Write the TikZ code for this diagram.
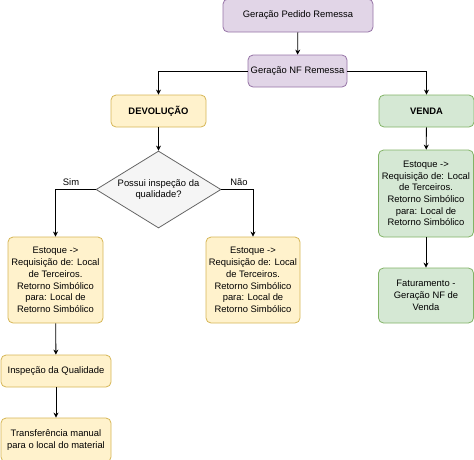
\documentclass[tikz,border=0pt]{standalone}
\usepackage{fontspec}
\setmainfont{Liberation Sans}
\usetikzlibrary{shapes.geometric,arrows.meta}
\definecolor{purfill}{HTML}{E1D5E7}\definecolor{purline}{HTML}{9673A6}
\definecolor{yelfill}{HTML}{FFF2CC}\definecolor{yelline}{HTML}{D6B656}
\definecolor{grnfill}{HTML}{D5E8D4}\definecolor{grnline}{HTML}{82B366}
\definecolor{gryfill}{HTML}{F5F5F5}\definecolor{gryline}{HTML}{666666}
\tikzset{
  base/.style={rectangle, rounded corners=5pt, line width=0.8pt, inner sep=0pt, align=center,
     font=\fontsize{9.4pt}{11.7pt}\selectfont},
  pur/.style={base, fill=purfill, draw=purline},
  yel/.style={base, fill=yelfill, draw=yelline},
  grn/.style={base, fill=grnfill, draw=grnline},
  dec/.style={diamond, aspect=1.62, fill=gryfill, draw=gryline, line width=0.8pt, inner sep=0pt,
     minimum width=125pt, minimum height=77pt, align=center, font=\fontsize{9.4pt}{11.7pt}\selectfont},
  lbl/.style={font=\fontsize{9.4pt}{11.7pt}\selectfont, inner sep=0pt},
  conn/.style={draw=black, line width=0.8pt, -{Stealth[length=5pt,width=5pt]}}
}
\begin{document}
\begin{tikzpicture}[x=1pt,y=-1pt]
\useasboundingbox (0,0) rectangle (474,459);
\node[pur, minimum width=150pt, minimum height=33pt] (top) at (298,15.5) {Geração Pedido Remessa};
\node[pur, minimum width=99pt, minimum height=32pt] (nf) at (297.5,71) {Geração NF Remessa};
\node[yel, minimum width=95pt, minimum height=32pt] (dev) at (158.5,111) {\textbf{DEVOLUÇÃO}};
\node[grn, minimum width=95pt, minimum height=32pt] (venda) at (426.5,111) {\textbf{VENDA}};
\node[dec] (q) at (158.5,189.5) {Possui inspeção da\\qualidade?};
\node[yel, minimum width=95pt, minimum height=86pt] (le) at (55.5,280) {Estoque ->\\Requisição de: Local\\de Terceiros.\\Retorno Simbólico\\para: Local de\\Retorno Simbólico};
\node[yel, minimum width=94pt, minimum height=86pt] (re) at (253,280) {Estoque ->\\Requisição de: Local\\de Terceiros.\\Retorno Simbólico\\para: Local de\\Retorno Simbólico};
\node[grn, minimum width=95pt, minimum height=87pt] (ge) at (426,193.5) {Estoque ->\\Requisição de: Local\\de Terceiros.\\Retorno Simbólico\\para: Local de\\Retorno Simbólico};
\node[grn, minimum width=95pt, minimum height=55pt] (fat) at (426,295.5) {Faturamento -\\Geração NF de\\Venda};
\node[yel, minimum width=110pt, minimum height=32pt] (insp) at (56,371) {Inspeção da Qualidade};
\node[yel, minimum width=110pt, minimum height=44pt] (tr) at (56,440) {Transferência manual\\para o local do material};
\node[lbl] (sim) at (71,182) {Sim};
\node[lbl] (nao) at (239,182) {Não};
\draw[conn] (top) -- (nf);
\draw[conn] (nf.west) -| (dev.north);
\draw[conn] (nf.east) -| (venda.north);
\draw[conn] (dev) -- (q);
\draw[conn] (q.west) -| (le.north);
\draw[conn] (q.east) -| (re.north);
\draw[conn] (venda) -- (ge);
\draw[conn] (ge) -- (fat);
\draw[conn] (le) -- (insp);
\draw[conn] (insp) -- (tr);
\end{tikzpicture}
\end{document}
